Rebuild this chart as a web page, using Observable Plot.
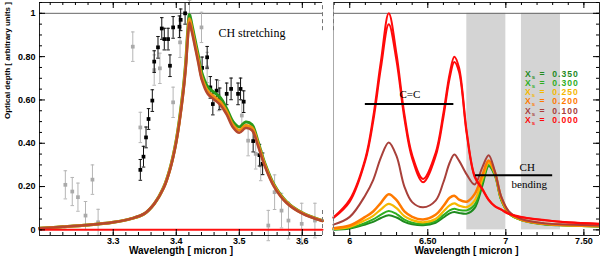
<!DOCTYPE html>
<html><head><meta charset="utf-8">
<script src="https://cdn.jsdelivr.net/npm/d3@7"></script>
<script src="https://cdn.jsdelivr.net/npm/@observablehq/plot@0.6"></script>
<style>
body{margin:0;background:#fff;}
#wrap{position:relative;width:600px;height:262px;display:flex;overflow:hidden;}
#legend{position:absolute;left:525px;top:69.6px;font:bold 8.6px "Liberation Sans",Arial,sans-serif;line-height:9.3px;white-space:pre;letter-spacing:1px;}
#legend div{height:9.3px;overflow:visible;}
#legend sub{font-size:6px;vertical-align:-1.5px;line-height:0;}
</style></head><body>
<div id="wrap"><div id="left"></div><div id="right"></div><div id="legend"></div></div>
<script>
// ---------- tick labels ----------
const leftXTicks = [3.3, 3.4, 3.5, 3.6];
const leftXLabels = ["3.3", "3.4", "3.5", "3.6"];
const rightXTicks = [6, 6.5, 7, 7.5];
const rightXLabels = ["6", "6.50", "7", "7.50"];
const yTicks = [0, 0.2, 0.4, 0.6, 0.8, 1];
const yLabels = ["0", "0.20", "0.40", "0.60", "0.80", "1"];

// ---------- left panel: observed points ----------
const blackX = [3.343,3.348,3.352,3.356,3.362,3.365,3.371,3.377,3.381,3.387,3.390,3.395,3.405,3.407,3.414,3.441,3.449,3.454,3.458,3.464,3.469,3.480,3.487,3.498,3.502,3.507,3.522,3.532,3.537];
const blackY = [0.277,0.338,0.427,0.512,0.597,0.777,0.843,0.930,0.881,0.881,0.758,0.935,0.938,0.970,1.0,0.748,0.797,0.658,0.581,0.643,0.605,0.628,0.651,0.628,0.651,0.592,0.41,0.345,0.305];
const blackErr = [0.048,0.048,0.048,0.048,0.05,0.05,0.05,0.05,0.05,0.05,0.05,0.05,0.05,0.05,0.05,0.05,0.05,0.05,0.05,0.05,0.05,0.05,0.05,0.05,0.05,0.05,0.05,0.05,0.05];
const grayX = [3.224,3.235,3.244,3.256,3.267,3.276,3.331,3.343,3.365,3.374,3.395,3.406,3.421,3.440,3.449,3.467,3.504,3.514,3.526,3.534,3.546,3.556,3.567,3.578,3.599,3.620];
const grayY = [0.208,0.177,0.151,0.066,0.232,0.035,0.846,0.473,0.738,0.746,0.589,0.866,0.99,0.935,0.75,0.62,0.528,0.412,0.351,0.297,0.02,0.174,0.089,0.043,0.028,0.043];
const grayErr = [0.065,0.065,0.065,0.065,0.068,0.06,0.068,0.07,0.07,0.07,0.07,0.07,0.07,0.07,0.07,0.07,0.07,0.07,0.07,0.07,0.07,0.08,0.08,0.085,0.095,0.08];

// ---------- left panel: model curves (CH stretching) ----------
const stretchX = [3.183,3.22,3.26,3.30,3.33,3.35,3.365,3.38,3.39,3.40,3.41,3.415,3.418,3.421,3.425,3.43,3.435,3.44,3.45,3.46,3.47,3.48,3.49,3.50,3.51,3.52,3.53,3.54,3.555,3.575,3.60,3.632];
const stretchGreen = [0.008,0.014,0.022,0.035,0.053,0.076,0.12,0.197,0.283,0.415,0.625,0.775,0.91,0.995,0.945,0.875,0.805,0.73,0.66,0.635,0.61,0.56,0.5,0.475,0.498,0.486,0.405,0.312,0.21,0.13,0.079,0.043];
const stretchOrange = [0.008,0.014,0.022,0.035,0.053,0.076,0.12,0.195,0.28,0.41,0.615,0.76,0.89,0.975,0.925,0.855,0.785,0.71,0.64,0.615,0.59,0.545,0.485,0.46,0.482,0.472,0.395,0.305,0.205,0.127,0.077,0.042];
const stretchBrown = [0.008,0.014,0.022,0.035,0.053,0.076,0.12,0.193,0.277,0.405,0.605,0.745,0.87,0.958,0.91,0.84,0.77,0.697,0.627,0.602,0.576,0.532,0.473,0.448,0.47,0.46,0.385,0.298,0.2,0.124,0.075,0.041];
const stretchZero = [0, 0];
const stretchZeroX = [3.183, 3.632];

// ---------- right panel: model curves ----------
const bendX = [5.896,6.00,6.10,6.15,6.20,6.25,6.30,6.35,6.40,6.47,6.55,6.60,6.64,6.67,6.70,6.75,6.80,6.85,6.89,6.93,6.97,7.02,7.10,7.25,7.40,7.60];
const red1   = [0.058,0.14,0.33,0.52,0.78,1.0,0.81,0.535,0.345,0.235,0.355,0.54,0.72,0.80,0.75,0.45,0.25,0.19,0.14,0.11,0.095,0.075,0.06,0.045,0.035,0.028];
const red2   = [0.055,0.13,0.32,0.50,0.75,0.95,0.78,0.515,0.33,0.22,0.34,0.52,0.70,0.775,0.73,0.44,0.245,0.185,0.137,0.108,0.093,0.073,0.058,0.044,0.034,0.027];
const brown  = [0.024,0.06,0.16,0.23,0.335,0.404,0.34,0.20,0.128,0.104,0.135,0.22,0.31,0.348,0.32,0.255,0.21,0.29,0.345,0.27,0.155,0.085,0.05,0.03,0.025,0.02];
const orange = [0.008,0.02,0.06,0.085,0.125,0.165,0.137,0.085,0.06,0.048,0.07,0.11,0.148,0.158,0.14,0.13,0.165,0.255,0.32,0.265,0.15,0.08,0.048,0.028,0.022,0.018];
const yellow = [0.005,0.014,0.045,0.065,0.095,0.12,0.10,0.063,0.045,0.035,0.05,0.085,0.113,0.122,0.112,0.105,0.135,0.235,0.31,0.26,0.145,0.078,0.046,0.027,0.021,0.017];
const green  = [0.003,0.01,0.032,0.048,0.07,0.087,0.073,0.047,0.033,0.027,0.04,0.068,0.09,0.097,0.092,0.09,0.115,0.22,0.30,0.255,0.14,0.076,0.045,0.026,0.02,0.016];
const dgreen = [0.001,0.006,0.025,0.037,0.055,0.068,0.057,0.037,0.026,0.021,0.033,0.057,0.076,0.082,0.078,0.075,0.10,0.205,0.295,0.25,0.138,0.075,0.044,0.025,0.02,0.015];

const legendLabels = ["0.350", "0.300", "0.250", "0.200", "0.100", "0.000"];
const legendColors = ["#1f8a1f", "#2fae1f", "#f5b800", "#ff7a00", "#a8403a", "#ff0a0a"];

const bandX1 = [6.75, 7.10];
const bandX2 = [7.00, 7.35];

// ---------- helpers ----------
const yDom = [-0.026, 1.05];
const font = "Liberation Sans, Arial, sans-serif";
const serif = "Liberation Serif, DejaVu Serif, serif";
const pts = (xs, ys, es) => xs.map((x, i) => ({x, y: ys[i], e: es ? es[i] : 0}));
const line = (xs, ys) => xs.map((x, i) => ({x, y: ys[i]}));

function xTicks(vals, len) {
  return [
    Plot.ruleX(vals, {x: d => d, y1: yDom[0], y2: yDom[0] + len, stroke: "#000"}),
    Plot.ruleX(vals, {x: d => d, y1: yDom[1], y2: yDom[1] - len, stroke: "#000"})
  ];
}
function yTicksAt(vals, xv, len) {
  return Plot.ruleY(vals, {y: d => d, x1: xv, x2: xv + len, stroke: "#000"});
}

// ---------- left plot ----------
const lxDom = [3.183, 3.632];
const pxL = (lxDom[1] - lxDom[0]) / 283;
const pyU = (yDom[1] - yDom[0]) / 233;
const minorLX = d3.range(3.20, 3.631, 0.02);
const minorY = d3.range(0, 1.051, 0.05);

const gray = pts(grayX, grayY, grayErr);
const black = pts(blackX, blackY, blackErr);

const left = Plot.plot({
  width: 326, height: 262,
  marginLeft: 39, marginRight: 4, marginTop: 2, marginBottom: 27,
  x: {domain: lxDom}, y: {domain: yDom},
  style: {fontFamily: font, fontSize: "9px", overflow: "visible", background: "transparent"},
  marks: [
    Plot.ruleY([1], {stroke: "#666", strokeWidth: 1}),
    // gray points
    Plot.ruleX(gray, {x: "x", y1: d => d.y - d.e, y2: d => d.y + d.e, stroke: "#b5b5b5", strokeWidth: 1}),
    Plot.link(gray, {x1: d => d.x - 0.0028, x2: d => d.x + 0.0028, y1: d => d.y - d.e, y2: d => d.y - d.e, stroke: "#b5b5b5"}),
    Plot.link(gray, {x1: d => d.x - 0.0028, x2: d => d.x + 0.0028, y1: d => d.y + d.e, y2: d => d.y + d.e, stroke: "#b5b5b5"}),
    Plot.dot(gray, {x: "x", y: "y", symbol: "square", r: 2.1, fill: "#aaaaaa", stroke: "none"}),
    // black points
    Plot.ruleX(black, {x: "x", y1: d => d.y - d.e, y2: d => d.y + d.e, stroke: "#111", strokeWidth: 1}),
    Plot.link(black, {x1: d => d.x - 0.0028, x2: d => d.x + 0.0028, y1: d => d.y - d.e, y2: d => d.y - d.e, stroke: "#111"}),
    Plot.link(black, {x1: d => d.x - 0.0028, x2: d => d.x + 0.0028, y1: d => d.y + d.e, y2: d => d.y + d.e, stroke: "#111"}),
    Plot.dot(black, {x: "x", y: "y", symbol: "square", r: 2.1, fill: "#000", stroke: "none"}),
    // curves
    Plot.line(line(stretchX, stretchGreen), {x: "x", y: "y", stroke: "#2a9a1a", strokeWidth: 3, curve: "catmull-rom"}),
    Plot.line(line(stretchX, stretchOrange), {x: "x", y: "y", stroke: "#f09010", strokeWidth: 3, curve: "catmull-rom"}),
    Plot.line(line(stretchX, stretchBrown), {x: "x", y: "y", stroke: "#b5482e", strokeWidth: 2.5, curve: "catmull-rom"}),
    Plot.line(line(stretchZeroX, stretchZero), {x: "x", y: "y", stroke: "#ff1010", strokeWidth: 2}),
    Plot.text(["CH stretching"], {x: 3.52, y: 0.91, fontFamily: serif, fontSize: 12, fill: "#000"}),
    // frame (top, bottom, left)
    Plot.ruleY([yDom[0], yDom[1]], {stroke: "#222"}),
    Plot.ruleX([lxDom[0]], {stroke: "#222"}),
    Plot.ruleX([lxDom[1]], {y1: 0.92, y2: 1.05, stroke: "#777", strokeDasharray: "4,3"}),
    Plot.ruleX([lxDom[1]], {y1: -0.026, y2: 0.09, stroke: "#777", strokeDasharray: "4,3"}),
    ...xTicks(minorLX, 3 * pyU),
    ...xTicks(leftXTicks, 6 * pyU),
    yTicksAt(minorY, lxDom[0], 3 * pxL),
    yTicksAt(yTicks, lxDom[0], 6 * pxL),
    Plot.axisX(leftXTicks, {tickSize: 0, tickPadding: 2, tickFormat: d => leftXLabels[leftXTicks.indexOf(d)], fontWeight: "bold", fontSize: 9, label: null}),
    Plot.axisY(yTicks, {tickSize: 0, tickPadding: 4, tickFormat: d => yLabels[yTicks.indexOf(d)], fontWeight: "bold", fontSize: 9, label: null}),
    Plot.text(["Wavelength [ micron ]"], {frameAnchor: "bottom", dy: 18, fontWeight: "bold", fontSize: 10, fill: "#000"}),
    Plot.text(["Optical depth [ arbitrary units ]"], {frameAnchor: "left", dx: -32, rotate: -90, fontWeight: "bold", fontSize: 8, fill: "#000"})
  ]
});
document.getElementById("left").appendChild(left);

// ---------- right plot ----------
const rxDom = [5.896, 7.60];
const pxR = (rxDom[1] - rxDom[0]) / 266;
const minorRX = d3.range(5.9, 7.6, 0.1);
const bands = bandX1.map((a, i) => ({x1: a, x2: bandX2[i]}));
const series = [dgreen, green, yellow, orange, brown];
const seriesW = [2, 2, 2.2, 2.5, 2];

const right = Plot.plot({
  width: 274, height: 262,
  marginLeft: 7, marginRight: 1, marginTop: 2, marginBottom: 27,
  x: {domain: rxDom}, y: {domain: yDom},
  style: {fontFamily: font, fontSize: "9px", overflow: "visible", background: "transparent"},
  marks: [
    Plot.rect(bands, {x1: "x1", x2: "x2", y1: 0, y2: 1, fill: "#d4d4d4"}),
    Plot.ruleY([1], {stroke: "#666", strokeWidth: 1}),
    ...series.map((s, i) => Plot.line(line(bendX, s), {x: "x", y: "y", stroke: legendColors[i], strokeWidth: seriesW[i], curve: "catmull-rom"})),
    Plot.line(line(bendX, red2), {x: "x", y: "y", stroke: legendColors[5], strokeWidth: 2, curve: "catmull-rom"}),
    Plot.line(line(bendX, red1), {x: "x", y: "y", stroke: legendColors[5], strokeWidth: 2, curve: "catmull-rom"}),
    Plot.ruleY([0.581], {x1: 6.10, x2: 6.667, stroke: "#000", strokeWidth: 2}),
    Plot.ruleY([0.252], {x1: 6.806, x2: 7.30, stroke: "#000", strokeWidth: 2}),
    Plot.text(["C=C"], {x: 6.385, y: 0.625, fontFamily: serif, fontSize: 11, fill: "#000"}),
    Plot.text(["CH"], {x: 7.137, y: 0.29, fontFamily: serif, fontSize: 11, fill: "#000"}),
    Plot.text(["bending"], {x: 7.15, y: 0.208, fontFamily: serif, fontSize: 11, fill: "#000"}),
    // frame
    Plot.ruleY([yDom[0], yDom[1]], {stroke: "#222"}),
    Plot.ruleX([rxDom[1]], {stroke: "#222"}),
    Plot.ruleX([rxDom[0]], {stroke: "#aaa"}),
    Plot.ruleX([rxDom[0]], {y1: 0.92, y2: 1.05, stroke: "#777", strokeDasharray: "4,3"}),
    Plot.ruleX([rxDom[0]], {y1: -0.026, y2: 0.09, stroke: "#777", strokeDasharray: "4,3"}),
    ...xTicks(minorRX, 3 * pyU),
    ...xTicks(rightXTicks, 6 * pyU),
    yTicksAt(minorY, rxDom[1], -3 * pxR),
    yTicksAt(yTicks, rxDom[1], -6 * pxR),
    Plot.axisX(rightXTicks, {tickSize: 0, tickPadding: 2, tickFormat: d => rightXLabels[rightXTicks.indexOf(d)], fontWeight: "bold", fontSize: 9, label: null}),
    Plot.axisY([], {tickSize: 0, label: null}),
    Plot.text(["Wavelength [ micron ]"], {frameAnchor: "bottom", dy: 18, fontWeight: "bold", fontSize: 10, fill: "#000"})
  ]
});
document.getElementById("right").appendChild(right);

// ---------- legend ----------
const leg = document.getElementById("legend");
legendLabels.forEach((lab, i) => {
  const div = document.createElement("div");
  div.style.color = legendColors[i];
  div.innerHTML = "X<sub>s</sub> =  " + lab;
  leg.appendChild(div);
});
</script>
</body></html>
